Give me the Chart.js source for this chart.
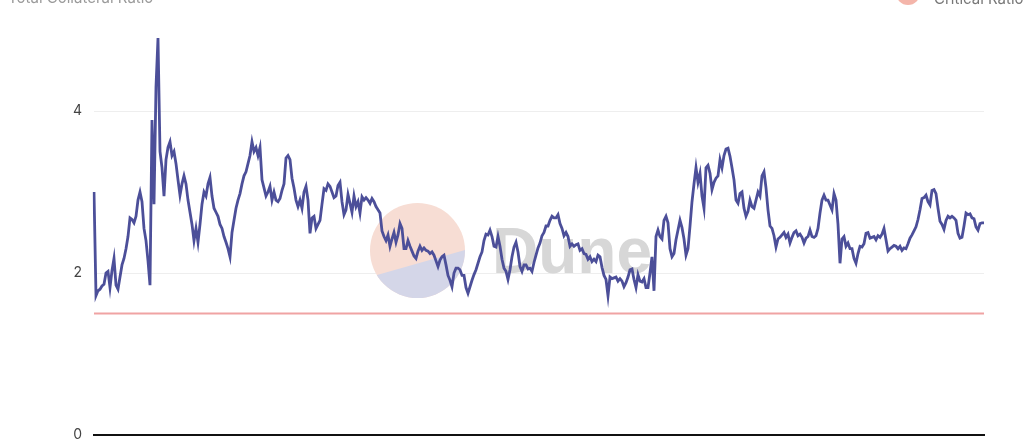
<!DOCTYPE html>
<html><head><meta charset="utf-8">
<script src="https://cdn.jsdelivr.net/npm/chart.js@4"></script>
<style>
html,body{margin:0;padding:0;width:1024px;height:445px;overflow:hidden;background:#fff;}
#wrap{position:absolute;left:0;top:-20px;width:1024px;height:490px;}
</style></head><body>
<div id="wrap"><canvas id="c"></canvas></div>
<script>
const chartTitle = 'Total Collateral Ratio';
const legendLabel = 'Critical Ratio';
const ratio = [
3.0,1.72,1.78,1.8,1.84,1.86,2.0,2.02,1.82,2.03,
2.18,1.85,1.8,1.95,2.1,2.18,2.3,2.45,2.68,2.66,
2.62,2.7,2.9,3.0,2.88,2.55,2.4,2.15,1.85,3.89,
2.85,4.3,4.9,3.5,3.3,2.95,3.4,3.55,3.62,3.45,
3.5,3.35,3.15,2.96,3.1,3.2,3.1,2.9,2.75,2.6,
2.4,2.55,2.38,2.6,2.85,3.0,2.95,3.1,3.18,2.95,
2.8,2.75,2.7,2.6,2.55,2.45,2.38,2.3,2.2,2.5,
2.65,2.8,2.9,2.98,3.1,3.2,3.25,3.35,3.45,3.62,
3.5,3.55,3.45,3.55,3.15,3.05,2.95,
3.0,3.07,2.9,3.0,2.9,2.88,2.92,3.02,3.1,3.42,3.45,3.4,3.17,3.05,2.9,2.82,2.9,2.8,3.0,3.07,
2.9,2.49,2.68,2.7,2.55,2.6,2.65,2.85,3.04,3.02,3.1,3.07,3.0,2.93,2.95,3.08,3.12,2.88,2.72,2.78,
2.97,2.86,2.75,2.95,2.82,2.88,2.74,2.94,2.9,2.93,2.9,2.86,2.92,2.88,2.82,2.78,2.74,2.52,2.45,2.4,
2.47,2.33,2.42,2.5,2.38,2.47,2.61,2.55,2.3,2.3,2.4,2.33,2.27,2.21,2.18,2.27,2.33,2.28,2.31,2.28,
2.27,2.24,2.26,2.22,2.15,2.08,2.16,2.2,2.22,
2.1,1.97,1.91,1.83,2.0,2.06,2.06,2.04,1.97,1.97,
1.82,1.75,1.83,1.91,1.98,2.04,2.12,2.2,2.26,2.4,
2.48,2.47,2.53,2.45,2.33,2.32,2.45,2.33,2.17,2.06,
2.02,1.92,2.04,2.2,2.32,2.38,2.26,2.08,2.02,2.1,
2.1,2.05,2.06,2.02,2.13,2.22,2.31,2.37,2.46,2.5,
2.58,2.58,2.65,2.7,2.68,2.68,2.72,2.61,2.55,2.46,
2.5,2.45,2.33,2.36,2.33,2.35,2.36,2.28,2.3,2.24,
2.23,2.17,2.2,2.14,2.17,2.14,2.22,2.2,2.07,1.97,
1.92,1.72,1.95,1.93,1.94,1.95,1.9,1.93,1.9,1.83,
1.88,1.95,2.04,2.05,1.92,1.82,1.98,1.9,1.89,1.93,
1.82,1.82,2.0,2.2,1.78,2.45,2.53,2.45,2.42,2.65,
2.7,2.62,
2.3,2.2,2.24,2.41,2.53,2.65,2.56,2.42,2.22,2.3,2.58,2.88,3.1,3.3,3.12,3.23,2.95,2.8,3.3,3.33,
3.23,3.03,3.12,3.17,3.2,3.4,3.3,3.45,3.53,3.54,3.44,3.3,3.15,2.9,2.86,2.98,3.0,2.8,2.7,2.76,
2.9,2.82,2.8,2.9,3.0,2.95,3.2,3.25,3.05,2.78,2.58,2.55,2.46,2.32,2.42,2.44,2.47,2.5,2.44,2.48,
2.37,2.44,2.5,2.52,2.46,2.48,2.44,2.37,2.43,2.45,2.53,2.45,2.44,2.46,2.55,2.74,2.9,2.96,
2.9,2.9,2.84,2.78,2.98,2.9,2.6,2.12,2.42,2.45,2.33,2.37,2.3,2.3,2.18,2.12,2.24,2.33,2.32,2.36,
2.49,2.5,2.43,2.44,2.45,2.41,2.46,2.44,2.48,2.55,2.41,2.27,2.3,2.32,2.34,2.33,2.3,2.33,2.28,2.31,
2.3,2.36,2.43,2.47,2.52,2.57,2.66,2.78,2.92,2.93,2.96,2.88,2.84,3.02,3.03,2.98,2.8,2.64,2.6,2.54,
2.65,2.7,2.68,2.7,2.68,2.65,2.49,2.43,2.44,2.58,2.74,2.72,2.73,2.68,2.67,2.57,2.53,2.61,2.62,2.62
];
const thresholdLevel = 1.5;
const yTicks = [0, 2, 4];
const yMax = 5;
const startDay = Date.UTC(2022, 0, 1);
const dates = ratio.map((_, i) => new Date(startDay + i * 86400000).toISOString().slice(0, 10));

const LINE = '#4c4f99';
const PINK = '#f0a3a3';

const decor = {
  id: 'decor',
  beforeDatasetsDraw(chart) {
    const ctx = chart.ctx;
    const cx = 417.5, cy = 270.5, r = 47.5;
    ctx.save();
    ctx.beginPath();
    ctx.arc(cx, cy, r, 0, Math.PI * 2);
    ctx.clip();
    ctx.fillStyle = '#f7ddd4';
    ctx.fillRect(cx - r, cy - r, 2 * r, 2 * r);
    ctx.beginPath();
    ctx.moveTo(cx - r - 2, 297.5);
    ctx.lineTo(cx + r + 2, 269.5);
    ctx.lineTo(cx + r + 2, cy + r + 2);
    ctx.lineTo(cx - r - 2, cy + r + 2);
    ctx.closePath();
    ctx.fillStyle = '#d4d6e8';
    ctx.fill();
    ctx.restore();
    ctx.save();
    ctx.fillStyle = '#d7d7d7';
    ctx.font = 'bold 64px "Liberation Sans", Arial, sans-serif';
    ctx.textBaseline = 'alphabetic';
    ctx.fillText('Dune', 492, 293);
    ctx.restore();
  },
  afterDraw(chart) {
    const ctx = chart.ctx;
    ctx.save();
    ctx.fillStyle = '#9a9a9a';
    ctx.font = '15px Inter, "Noto Sans", sans-serif';
    ctx.textBaseline = 'alphabetic';
    ctx.fillText(chartTitle, 8, 23);
    ctx.beginPath();
    ctx.arc(908, 13, 12, 0, Math.PI * 2);
    ctx.fillStyle = '#f4b5aa';
    ctx.fill();
    ctx.fillStyle = '#777';
    ctx.fillText(legendLabel, 934, 24);
    ctx.restore();
  }
};

new Chart(document.getElementById('c'), {
  type: 'line',
  data: {
    labels: dates,
    datasets: [
      {
        label: 'Total Collateral Ratio',
        data: ratio,
        borderColor: LINE,
        borderWidth: 2.8,
        pointRadius: 0,
        tension: 0,
        order: 1
      },
      {
        label: legendLabel,
        data: [{x: dates[0], y: thresholdLevel}, {x: dates[dates.length - 1], y: thresholdLevel}],
        borderColor: PINK,
        borderWidth: 2,
        pointRadius: 0,
        order: 2
      }
    ]
  },
  options: {
    responsive: true,
    maintainAspectRatio: false,
    animation: false,
    events: [],
    layout: { padding: { top: 50, right: 40, left: 0, bottom: 35 } },
    plugins: { legend: { display: false }, tooltip: { enabled: false }, title: { display: false } },
    scales: {
      x: {
        ticks: { display: false },
        grid: { display: false, drawTicks: false },
        border: { display: true, color: '#111', width: 2 },
        afterFit(s) { s.height = 0; }
      },
      y: {
        min: 0, max: yMax,
        afterBuildTicks(s) { s.ticks = yTicks.map(v => ({ value: v })); },
        afterFit(s) { s.width = 94; },
        ticks: { padding: 12, color: '#444', font: { size: 14, family: 'Inter, "Noto Sans", sans-serif' } },
        grid: { drawTicks: false, color: (c) => c.tick && c.tick.value === 0 ? 'rgba(0,0,0,0)' : '#eeeeee', lineWidth: 1 },
        border: { display: false }
      }
    }
  },
  plugins: [decor]
});
</script>
</body></html>
